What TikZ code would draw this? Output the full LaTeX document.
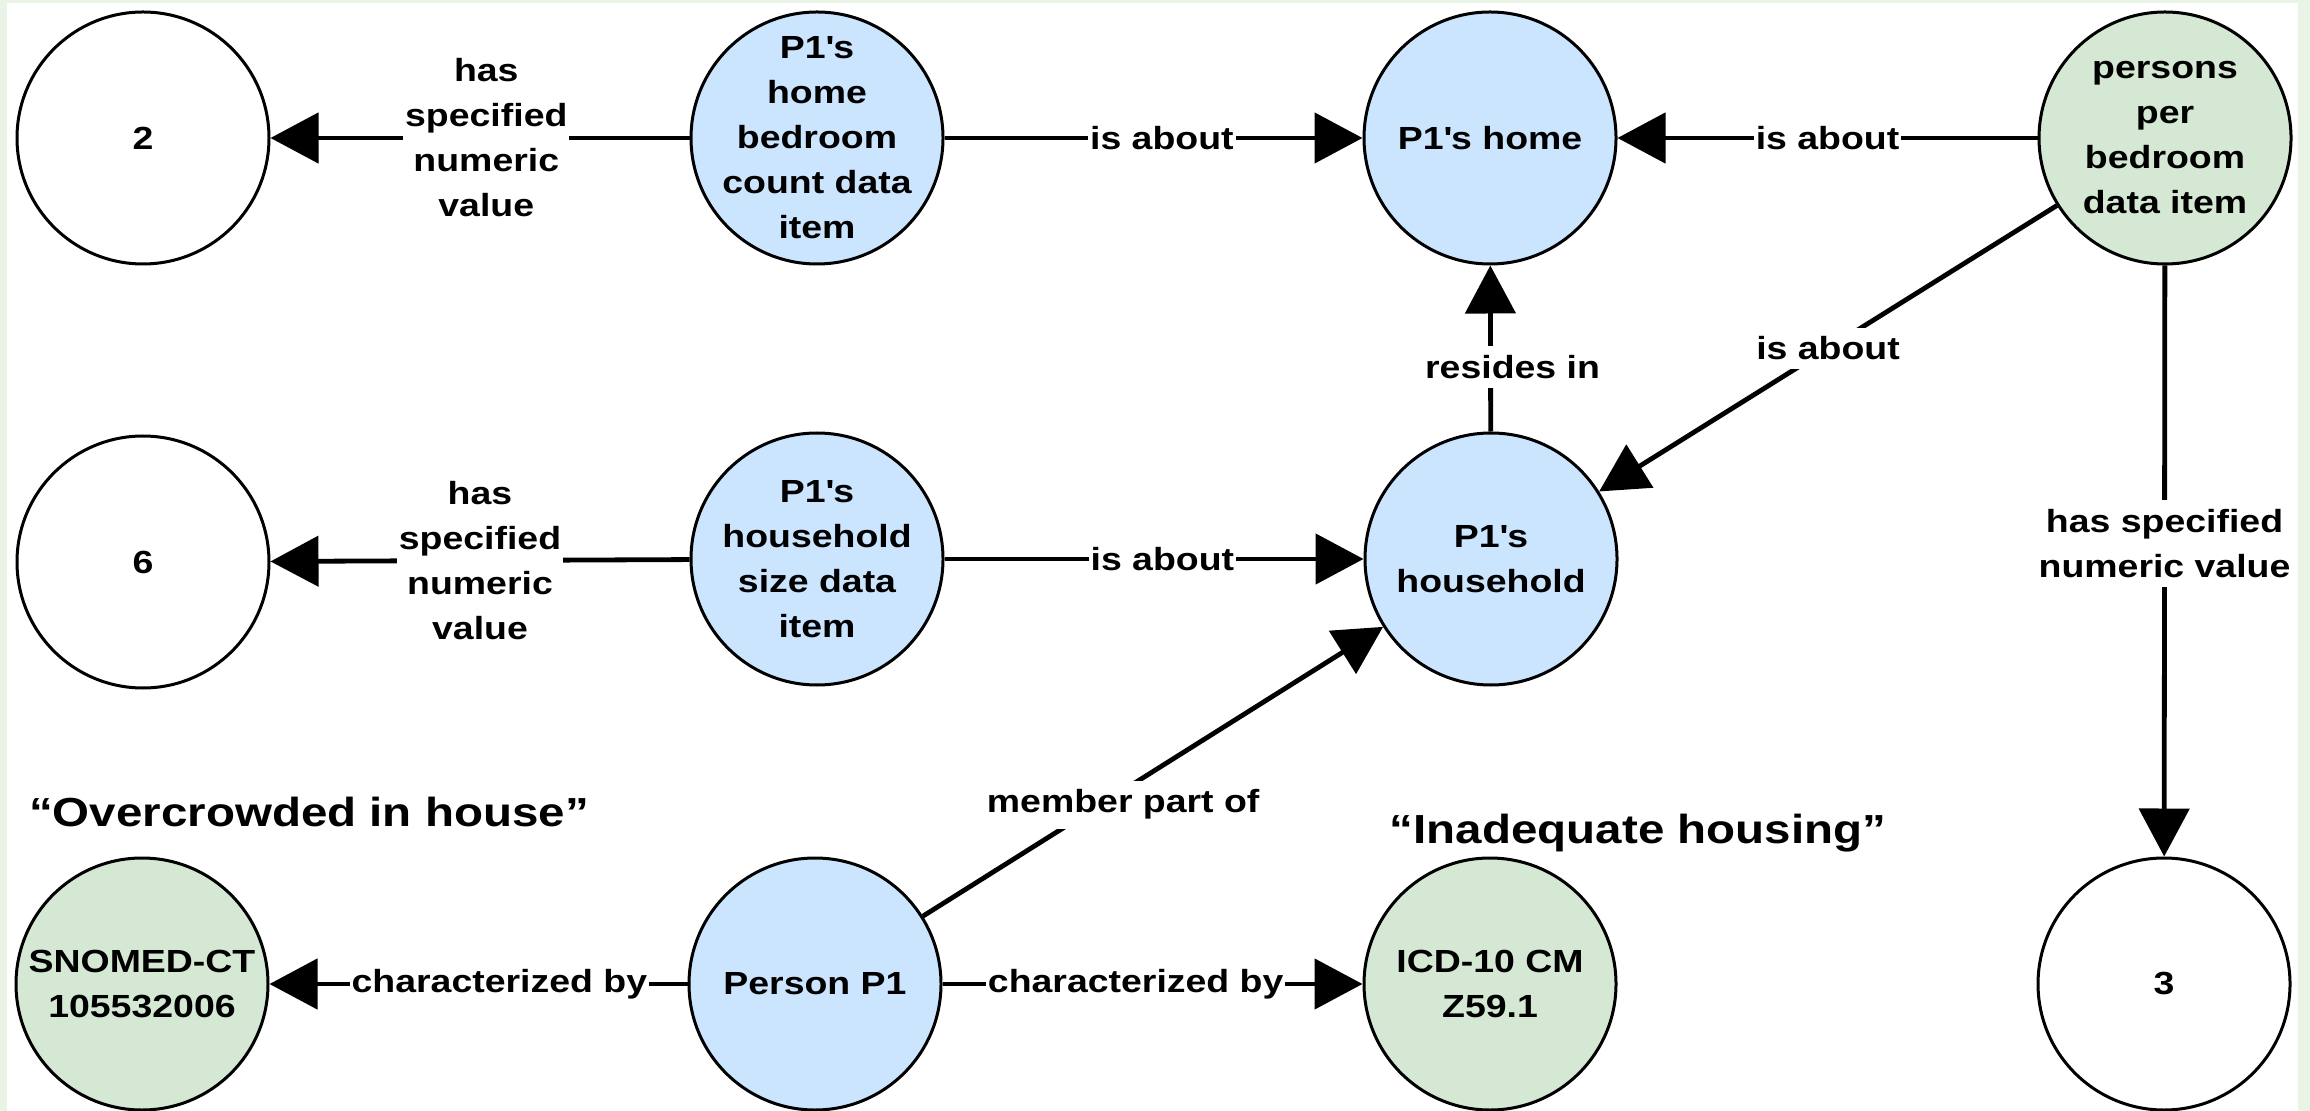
\documentclass[tikz,border=0pt]{standalone}
\usepackage{fontspec}
\setmainfont{Liberation Sans}[FakeStretch=1.17]
\usetikzlibrary{arrows.meta}
\definecolor{bluefill}{HTML}{CCE5FF}
\definecolor{greenfill}{HTML}{D5E8D4}
\definecolor{framegreen}{HTML}{EAF4E6}
\newcommand\pq{\textquotesingle}

\begin{document}
\begin{tikzpicture}[x=0.5pt, y=-0.5pt,
  every node/.style={font=\bfseries\fontsize{16pt}{22.5pt}\selectfont},
  term/.style={circle, draw=black, line width=1.5pt, minimum size=126pt, inner sep=0pt},
  bluenode/.style={term, fill=bluefill},
  greennode/.style={term, fill=greenfill},
  valnode/.style={term, fill=white},
  ttext/.style={align=center, inner sep=0pt},
  rel/.style={draw=black, line width=2.4pt, -{Triangle[length=24pt, width=25pt]}},
  lbl/.style={fill=white, align=center, inner xsep=1pt, inner ysep=4.5pt},
  headline/.style={font=\bfseries\fontsize{20.3pt}{24pt}\selectfont, anchor=base, inner sep=0pt}
]
% page frame
\fill[framegreen] (0,0) rectangle (2310,1111);
\fill[white] (7,3) rectangle (2298,1111);
\useasboundingbox (0,0) rectangle (2310,1111);

% terms
\node[valnode]   (two)    at (143,138) {};
\node[bluenode]  (bed)    at (817,138) {};
\node[bluenode]  (home)   at (1490,138) {};
\node[greennode] (ppb)    at (2165,138) {};
\node[valnode]   (six)    at (143,562) {};
\node[bluenode]  (hsz)    at (817,559) {};
\node[bluenode]  (hh)     at (1491,559) {};
\node[greennode] (snomed) at (142,984) {};
\node[bluenode]  (p1)     at (815,984) {};
\node[greennode] (icd)    at (1490,984) {};
\node[valnode]   (three)  at (2164,984) {};

% term texts
\node[ttext] (two-t)    at (two)    {2};
\node[ttext] (bed-t)    at (bed)    {P1\pq s\\home\\bedroom\\count data\\item};
\node[ttext] (home-t)   at (home)   {P1\pq s home};
\node[ttext] (ppb-t)    at (ppb)    {persons\\per\\bedroom\\data item};
\node[ttext] (six-t)    at (six)    {6};
\node[ttext] (hsz-t)    at (hsz)    {P1\pq s\\household\\size data\\item};
\node[ttext] (hh-t)     at (hh)     {P1\pq s\\household};
\node[ttext] (snomed-t) at (snomed) {SNOMED-CT\\105532006};
\node[ttext] (p1-t)     at (p1)     {Person P1};
\node[ttext] (icd-t)    at (icd)    {ICD-10 CM\\Z59.1};
\node[ttext] (three-t)  at (three)  {3};

% relations
\draw[rel] (bed) -- node[lbl,pos=0.485]{has\\specified\\numeric\\value} (two);
\draw[rel] (bed) -- node[lbl,pos=0.52]{is about} (home);
\draw[rel] (ppb) -- node[lbl]{is about} (home);
\draw[rel] (ppb) -- node[lbl]{is about} (hh);
\draw[rel] (hh) -- node[lbl,pos=0.39,xshift=11pt]{resides in} (home);
\draw[rel] (hsz) -- node[lbl,pos=0.5]{has\\specified\\numeric\\value} (six);
\draw[rel] (hsz) -- node[lbl,pos=0.52]{is about} (hh);
\draw[rel] (p1) -- node[lbl,pos=0.42,xshift=3.5pt,yshift=-5pt]{member part of} (hh);
\draw[rel] (p1) -- node[lbl,pos=0.45]{characterized by} (snomed);
\draw[rel] (p1) -- node[lbl,pos=0.46]{characterized by} (icd);
\draw[rel] (ppb) -- node[lbl,pos=0.47]{has specified\\numeric value} (three);

% code captions
\node[headline] (cap-snomed) at (309,826) {“Overcrowded in house”};
\node[headline] (cap-icd)    at (1638,843) {“Inadequate housing”};
\end{tikzpicture}
\end{document}
